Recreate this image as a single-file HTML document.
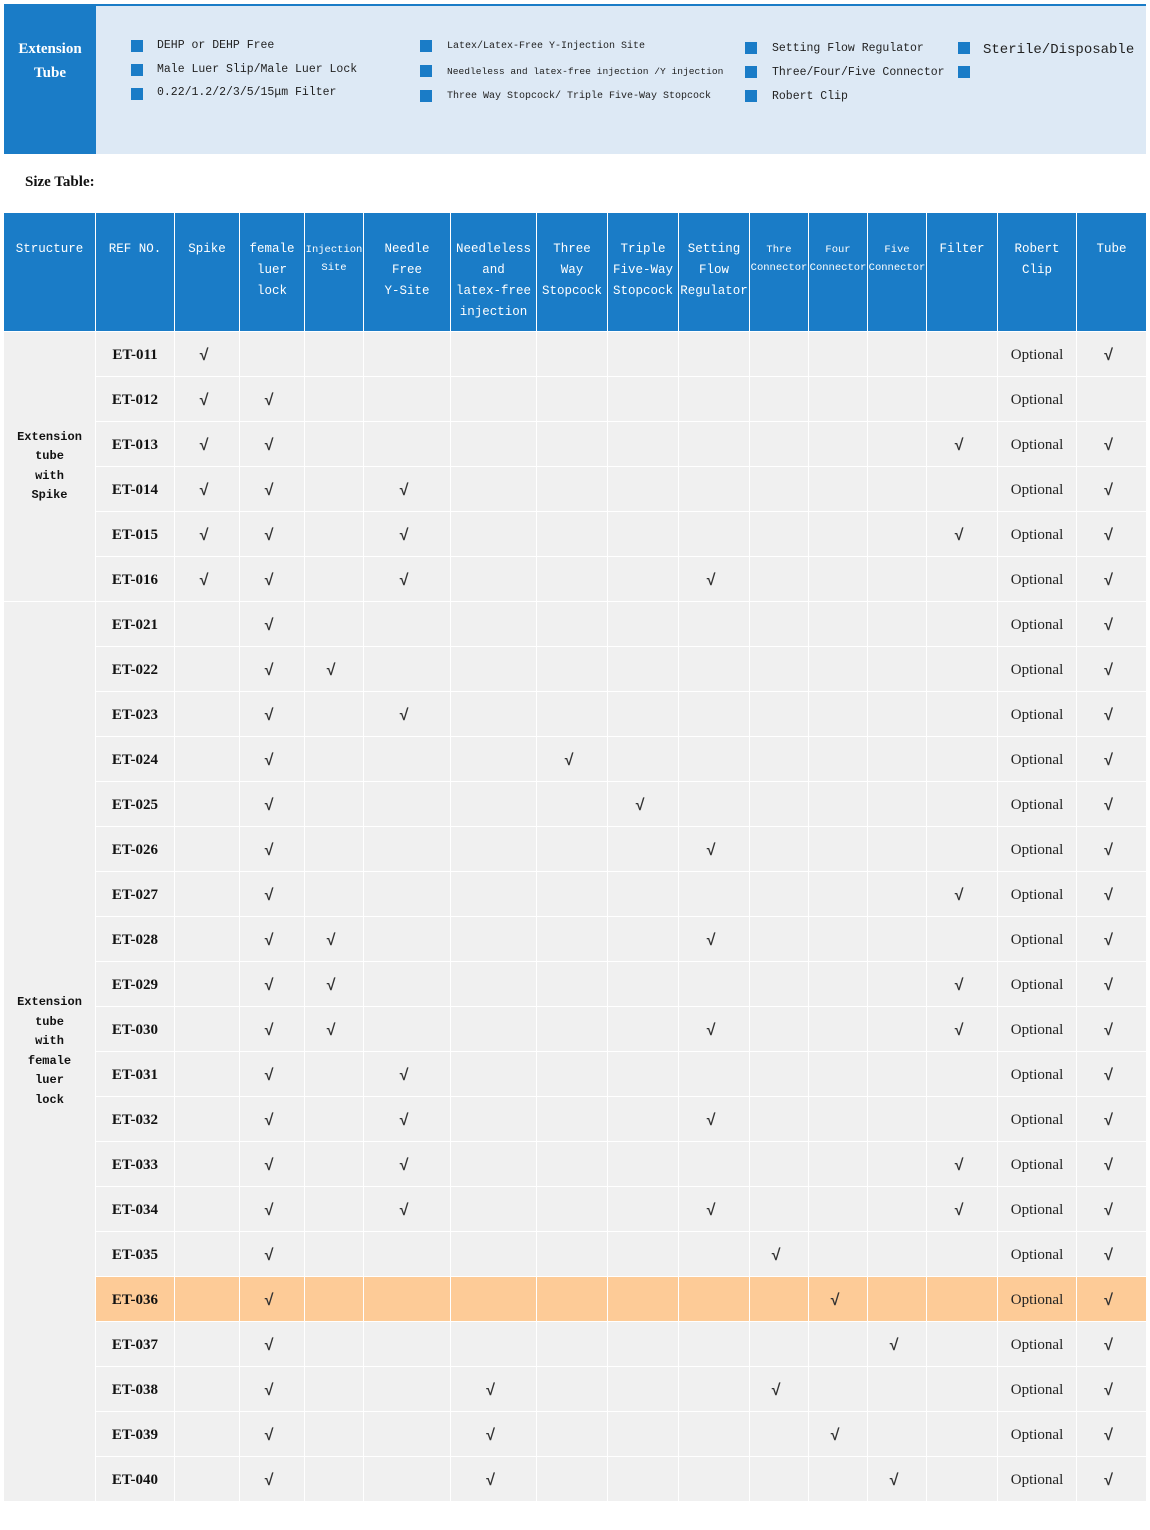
<!DOCTYPE html>
<html><head><meta charset="utf-8"><style>
*{margin:0;padding:0;box-sizing:border-box}
body{width:1150px;height:1530px;background:#fff;position:relative;font-family:"Liberation Mono","Noto Sans CJK SC",monospace;overflow:hidden}
.ban{position:absolute;left:4px;top:4px;width:1142px;height:150px;background:#dde9f5;border-top:2px solid #1a7cc7}
.bl{position:absolute;left:0;top:0;width:92px;height:148px;background:#1a7cc7;color:#fff;font-family:"Liberation Serif",serif;font-weight:bold;font-size:15px;text-align:center;padding-top:31px;line-height:24px}
.sq{position:absolute;width:12px;height:12px;background:#1a7cc7}
.lt{position:absolute;font-size:11.5px;color:#222;white-space:nowrap;line-height:14px}
.st{position:absolute;left:25px;top:174px;font-family:"Liberation Serif",serif;font-weight:bold;font-size:15px;color:#111}
.g{position:absolute;left:4px;top:213px;width:1142px;display:grid;gap:1px;background:#fff;
grid-template-columns:91px 78px 64px 64px 58px 86px 85px 70px 70px 70px 58px 58px 58px 70px 78px 69px;
grid-template-rows:118px repeat(26,44px)}
.g>div{background:#f0f0f0;display:flex;align-items:center;justify-content:center;color:#333;font-size:15px;padding-top:3px}
.g>div.h{background:#1a7cc7;color:#fff;font-size:12.5px;line-height:21px;align-items:flex-start;padding-top:26px;text-align:center;white-space:nowrap}
.g>div.h.s{font-size:10.5px;line-height:18px;padding-top:28px}
.g>div.r{font-family:"Liberation Serif",serif;font-weight:bold;font-size:15px;color:#111}
.g>div.o{font-family:"Liberation Serif",serif;font-size:15px;color:#222}
.g>div.k{font-size:16px;font-weight:bold;padding-right:6px}
.g>div.x{font-family:"Liberation Mono",monospace;font-weight:bold;font-size:12px;line-height:19.5px;text-align:center;color:#111;padding-top:0}
.g>div.y{background:#fdcb97}
</style></head><body>
<div class="ban">
<div class="bl">Extension<br>Tube</div>
<div class="sq" style="left:127px;top:34px"></div><div class="lt" style="left:153px;top:33px">DEHP or DEHP Free</div>
<div class="sq" style="left:127px;top:58px"></div><div class="lt" style="left:153px;top:57px">Male Luer Slip/Male Luer Lock</div>
<div class="sq" style="left:127px;top:82px"></div><div class="lt" style="left:153px;top:80px">0.22/1.2/2/3/5/15μm Filter</div>
<div class="sq" style="left:416px;top:34px"></div><div class="lt" style="left:443px;top:34px;font-size:10px">Latex/Latex-Free Y-Injection Site</div>
<div class="sq" style="left:416px;top:59px"></div><div class="lt" style="left:443px;top:59px;font-size:9.6px">Needleless and latex-free  injection /Y injection</div>
<div class="sq" style="left:416px;top:84px"></div><div class="lt" style="left:443px;top:84px;font-size:10px">Three Way  Stopcock/ Triple Five-Way Stopcock</div>
<div class="sq" style="left:741px;top:36px"></div><div class="lt" style="left:768px;top:36px">Setting Flow Regulator</div>
<div class="sq" style="left:741px;top:60px"></div><div class="lt" style="left:768px;top:60px">Three/Four/Five Connector</div>
<div class="sq" style="left:741px;top:84px"></div><div class="lt" style="left:768px;top:84px">Robert Clip</div>
<div class="sq" style="left:954px;top:36px"></div><div class="lt" style="left:979px;top:36px;font-size:14px;line-height:16px">Sterile/Disposable</div>
<div class="sq" style="left:954px;top:60px"></div>
</div>
<div class="st">Size Table:</div>
<div class="g">
<div class="h">Structure</div><div class="h">REF NO.</div><div class="h">Spike</div><div class="h">female<br>luer<br>lock</div><div class="h s">Injection<br>Site</div><div class="h">Needle<br>Free<br>Y-Site</div><div class="h">Needleless<br>and<br>latex-free<br>injection</div><div class="h">Three<br>Way<br>Stopcock</div><div class="h">Triple<br>Five-Way<br>Stopcock</div><div class="h">Setting<br>Flow<br>Regulator</div><div class="h s">Thre<br>Connector</div><div class="h s">Four<br>Connector</div><div class="h s">Five<br>Connector</div><div class="h">Filter</div><div class="h">Robert<br>Clip</div><div class="h">Tube</div>

<div class="x" style="grid-column:1;grid-row:2/span 6">Extension<br>tube<br>with<br>Spike</div>
<div class="r">ET-011</div><div class="k">√</div><div></div><div></div><div></div><div></div><div></div><div></div><div></div><div></div><div></div><div></div><div></div><div class="o">Optional</div><div class="k">√</div>
<div class="r">ET-012</div><div class="k">√</div><div class="k">√</div><div></div><div></div><div></div><div></div><div></div><div></div><div></div><div></div><div></div><div></div><div class="o">Optional</div><div></div>
<div class="r">ET-013</div><div class="k">√</div><div class="k">√</div><div></div><div></div><div></div><div></div><div></div><div></div><div></div><div></div><div></div><div class="k">√</div><div class="o">Optional</div><div class="k">√</div>
<div class="r">ET-014</div><div class="k">√</div><div class="k">√</div><div></div><div class="k">√</div><div></div><div></div><div></div><div></div><div></div><div></div><div></div><div></div><div class="o">Optional</div><div class="k">√</div>
<div class="r">ET-015</div><div class="k">√</div><div class="k">√</div><div></div><div class="k">√</div><div></div><div></div><div></div><div></div><div></div><div></div><div></div><div class="k">√</div><div class="o">Optional</div><div class="k">√</div>
<div class="r">ET-016</div><div class="k">√</div><div class="k">√</div><div></div><div class="k">√</div><div></div><div></div><div></div><div class="k">√</div><div></div><div></div><div></div><div></div><div class="o">Optional</div><div class="k">√</div>

<div class="x" style="grid-column:1;grid-row:8/span 20">Extension<br>tube<br>with<br>female<br>luer<br>lock</div>
<div class="r">ET-021</div><div></div><div class="k">√</div><div></div><div></div><div></div><div></div><div></div><div></div><div></div><div></div><div></div><div></div><div class="o">Optional</div><div class="k">√</div>
<div class="r">ET-022</div><div></div><div class="k">√</div><div class="k">√</div><div></div><div></div><div></div><div></div><div></div><div></div><div></div><div></div><div></div><div class="o">Optional</div><div class="k">√</div>
<div class="r">ET-023</div><div></div><div class="k">√</div><div></div><div class="k">√</div><div></div><div></div><div></div><div></div><div></div><div></div><div></div><div></div><div class="o">Optional</div><div class="k">√</div>
<div class="r">ET-024</div><div></div><div class="k">√</div><div></div><div></div><div></div><div class="k">√</div><div></div><div></div><div></div><div></div><div></div><div></div><div class="o">Optional</div><div class="k">√</div>
<div class="r">ET-025</div><div></div><div class="k">√</div><div></div><div></div><div></div><div></div><div class="k">√</div><div></div><div></div><div></div><div></div><div></div><div class="o">Optional</div><div class="k">√</div>
<div class="r">ET-026</div><div></div><div class="k">√</div><div></div><div></div><div></div><div></div><div></div><div class="k">√</div><div></div><div></div><div></div><div></div><div class="o">Optional</div><div class="k">√</div>
<div class="r">ET-027</div><div></div><div class="k">√</div><div></div><div></div><div></div><div></div><div></div><div></div><div></div><div></div><div></div><div class="k">√</div><div class="o">Optional</div><div class="k">√</div>
<div class="r">ET-028</div><div></div><div class="k">√</div><div class="k">√</div><div></div><div></div><div></div><div></div><div class="k">√</div><div></div><div></div><div></div><div></div><div class="o">Optional</div><div class="k">√</div>
<div class="r">ET-029</div><div></div><div class="k">√</div><div class="k">√</div><div></div><div></div><div></div><div></div><div></div><div></div><div></div><div></div><div class="k">√</div><div class="o">Optional</div><div class="k">√</div>
<div class="r">ET-030</div><div></div><div class="k">√</div><div class="k">√</div><div></div><div></div><div></div><div></div><div class="k">√</div><div></div><div></div><div></div><div class="k">√</div><div class="o">Optional</div><div class="k">√</div>
<div class="r">ET-031</div><div></div><div class="k">√</div><div></div><div class="k">√</div><div></div><div></div><div></div><div></div><div></div><div></div><div></div><div></div><div class="o">Optional</div><div class="k">√</div>
<div class="r">ET-032</div><div></div><div class="k">√</div><div></div><div class="k">√</div><div></div><div></div><div></div><div class="k">√</div><div></div><div></div><div></div><div></div><div class="o">Optional</div><div class="k">√</div>
<div class="r">ET-033</div><div></div><div class="k">√</div><div></div><div class="k">√</div><div></div><div></div><div></div><div></div><div></div><div></div><div></div><div class="k">√</div><div class="o">Optional</div><div class="k">√</div>
<div class="r">ET-034</div><div></div><div class="k">√</div><div></div><div class="k">√</div><div></div><div></div><div></div><div class="k">√</div><div></div><div></div><div></div><div class="k">√</div><div class="o">Optional</div><div class="k">√</div>
<div class="r">ET-035</div><div></div><div class="k">√</div><div></div><div></div><div></div><div></div><div></div><div></div><div class="k">√</div><div></div><div></div><div></div><div class="o">Optional</div><div class="k">√</div>
<div class="r y">ET-036</div><div class="y"></div><div class="k y">√</div><div class="y"></div><div class="y"></div><div class="y"></div><div class="y"></div><div class="y"></div><div class="y"></div><div class="y"></div><div class="k y">√</div><div class="y"></div><div class="y"></div><div class="o y">Optional</div><div class="k y">√</div>
<div class="r">ET-037</div><div></div><div class="k">√</div><div></div><div></div><div></div><div></div><div></div><div></div><div></div><div></div><div class="k">√</div><div></div><div class="o">Optional</div><div class="k">√</div>
<div class="r">ET-038</div><div></div><div class="k">√</div><div></div><div></div><div class="k">√</div><div></div><div></div><div></div><div class="k">√</div><div></div><div></div><div></div><div class="o">Optional</div><div class="k">√</div>
<div class="r">ET-039</div><div></div><div class="k">√</div><div></div><div></div><div class="k">√</div><div></div><div></div><div></div><div></div><div class="k">√</div><div></div><div></div><div class="o">Optional</div><div class="k">√</div>
<div class="r">ET-040</div><div></div><div class="k">√</div><div></div><div></div><div class="k">√</div><div></div><div></div><div></div><div></div><div></div><div class="k">√</div><div></div><div class="o">Optional</div><div class="k">√</div>
</div>
</body></html>
